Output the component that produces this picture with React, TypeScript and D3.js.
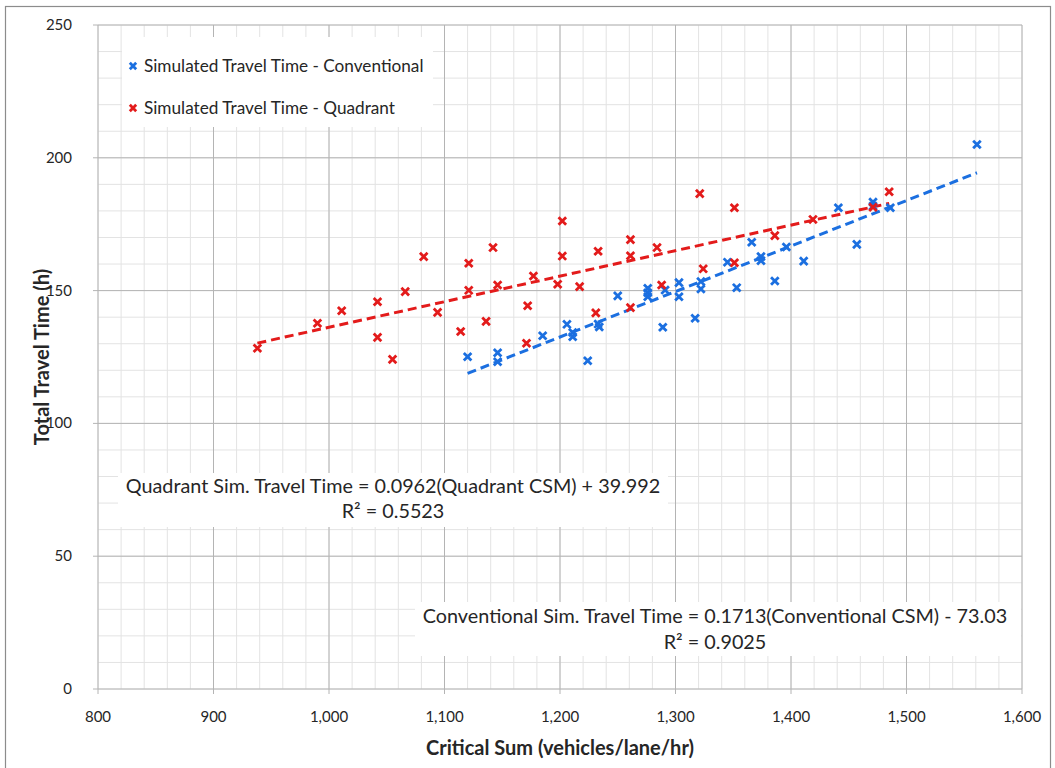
import React from "react";
import * as d3 from "d3";

// ---------- data ----------
const conventionalCSM = [
  1120, 1146, 1146, 1185, 1206, 1211, 1211, 1224, 1233, 1234, 1250, 1276, 1276, 1276,
  1289, 1291, 1303, 1303, 1317, 1322, 1322, 1345, 1353, 1366, 1374, 1374, 1386, 1396,
  1411, 1441, 1457, 1471, 1471, 1486, 1561,
];
const conventionalTime = [
  125.1, 126.6, 123.2, 133.0, 137.3, 134.2, 132.6, 123.6, 137.4, 136.3, 148.0, 150.9, 149.2, 147.7,
  136.2, 150.2, 153.0, 147.7, 139.6, 153.4, 150.6, 160.7, 151.1, 168.2, 162.8, 161.3, 153.6, 166.4,
  161.1, 181.2, 167.4, 183.3, 181.8, 181.2, 205.0,
];
const quadrantCSM = [
  938, 990, 1011, 1042, 1042, 1055, 1066, 1082, 1094, 1114, 1121, 1121, 1142, 1136, 1146,
  1172, 1171, 1177, 1202, 1202, 1198, 1217, 1233, 1231, 1261, 1261, 1261, 1284, 1288,
  1321, 1324, 1351, 1351, 1386, 1419, 1471, 1485,
];
const quadrantTime = [
  128.3, 137.7, 142.4, 145.8, 132.4, 124.1, 149.6, 162.8, 141.8, 134.6, 160.3, 150.1, 166.2, 138.4, 152.1,
  144.3, 130.2, 155.5, 176.2, 163.0, 152.4, 151.5, 164.8, 141.6, 169.2, 163.1, 143.6, 166.2, 152.1,
  186.5, 158.2, 181.2, 160.5, 170.7, 176.8, 181.4, 187.2,
];
const conventionalFit = { slope: 0.1713, intercept: -73.03 };
const quadrantFit = { slope: 0.0962, intercept: 39.992 };

const xTicks = [800, 900, 1000, 1100, 1200, 1300, 1400, 1500, 1600];
const yTicks = [0, 50, 100, 150, 200, 250];
const legendLabels = ["Simulated Travel Time - Conventional", "Simulated Travel Time - Quadrant"];
const quadrantEq = "Quadrant Sim. Travel Time = 0.0962(Quadrant CSM) + 39.992";
const quadrantR2 = "R² = 0.5523";
const conventionalEq = "Conventional Sim. Travel Time = 0.1713(Conventional CSM) - 73.03";
const conventionalR2 = "R² = 0.9025";
const xTitle = "Critical Sum (vehicles/lane/hr)";
const yTitle = "Total Travel Time (h)";

// ---------- styles ----------
const W = 1055;
const H = 768;
const plot = { left: 98, right: 1022, top: 25, bottom: 689 };
const BLUE = "#1b6fe0";
const RED = "#e31b1b";
const TEXT = "#262626";
const FONT = "Lato, 'Open Sans', sans-serif";

function Cross({ x, y, color, s = 3.8 }: { x: number; y: number; color: string; s?: number }) {
  return (
    <path
      d={`M${x - s},${y - s}L${x + s},${y + s}M${x - s},${y + s}L${x + s},${y - s}`}
      stroke={color}
      strokeWidth={2.8}
      fill="none"
    />
  );
}

export default function App() {
  const x = d3.scaleLinear().domain([800, 1600]).range([plot.left, plot.right]);
  const y = d3.scaleLinear().domain([0, 250]).range([plot.bottom, plot.top]);

  const xMinor = d3.range(800, 1600.1, 20);
  const yMinor = d3.range(0, 250.1, 10);

  const conv = conventionalCSM.map((c, i) => [c, conventionalTime[i]] as [number, number]);
  const quad = quadrantCSM.map((c, i) => [c, quadrantTime[i]] as [number, number]);

  const line = d3
    .line<[number, number]>()
    .x((d) => x(d[0]))
    .y((d) => y(d[1]));

  const fitPts = (xs: number[], f: { slope: number; intercept: number }) => {
    const [a, b] = d3.extent(xs) as [number, number];
    return [
      [a, f.slope * a + f.intercept],
      [b, f.slope * b + f.intercept],
    ] as [number, number][];
  };

  return (
    <svg
      width={W}
      height={H}
      style={{ position: "absolute", left: 0, top: 0, background: "#fff" }}
      fontFamily={FONT}
    >
      <rect x={0} y={0} width={W} height={H} fill="#fff" />
      <rect x={5.5} y={6.5} width={1045} height={775} fill="none" stroke="#8c8c8c" strokeWidth={1.2} />

      {/* minor grid */}
      {xMinor.map((v) => (
        <line key={"xm" + v} x1={x(v)} x2={x(v)} y1={plot.top} y2={plot.bottom} stroke="#e3e3e3" strokeWidth={1} />
      ))}
      {yMinor.map((v) => (
        <line key={"ym" + v} x1={plot.left} x2={plot.right} y1={y(v)} y2={y(v)} stroke="#e3e3e3" strokeWidth={1} />
      ))}
      {/* major grid */}
      {xTicks.map((v) => (
        <line key={"xM" + v} x1={x(v)} x2={x(v)} y1={plot.top} y2={plot.bottom + 5} stroke="#b4b4b4" strokeWidth={1} />
      ))}
      {yTicks.map((v) => (
        <line key={"yM" + v} x1={plot.left - 5} x2={plot.right} y1={y(v)} y2={y(v)} stroke="#b4b4b4" strokeWidth={1} />
      ))}

      {/* legend & label boxes */}
      <rect x={122} y={37} width={311} height={90} fill="#fff" />
      <rect x={118} y={473} width={550} height={54} fill="#fff" />
      <rect x={415} y={602} width={606} height={54} fill="#fff" />

      {/* trend lines */}
      <path d={line(fitPts(quadrantCSM, quadrantFit)) || ""} stroke={RED} strokeWidth={3} strokeDasharray="9 5" fill="none" />
      <path d={line(fitPts(conventionalCSM, conventionalFit)) || ""} stroke={BLUE} strokeWidth={3} strokeDasharray="9 5" fill="none" />

      {/* points */}
      {conv.map((d, i) => (
        <Cross key={"c" + i} x={x(d[0])} y={y(d[1])} color={BLUE} />
      ))}
      {quad.map((d, i) => (
        <Cross key={"q" + i} x={x(d[0])} y={y(d[1])} color={RED} />
      ))}

      {/* legend */}
      {legendLabels.map((t, i) => (
        <g key={t}>
          <Cross x={133} y={66 + i * 42} color={i === 0 ? BLUE : RED} s={3.2} />
          <text x={144} y={72 + i * 42} fontSize={17.2} fill={TEXT}>
            {t}
          </text>
        </g>
      ))}

      {/* annotations */}
      <text x={393} y={493} fontSize={19.8} textAnchor="middle" fill={TEXT}>
        {quadrantEq}
      </text>
      <text x={393} y={518} fontSize={19.8} textAnchor="middle" fill={TEXT}>
        {quadrantR2}
      </text>
      <text x={715} y={623} fontSize={19.8} textAnchor="middle" fill={TEXT}>
        {conventionalEq}
      </text>
      <text x={715} y={649} fontSize={19.8} textAnchor="middle" fill={TEXT}>
        {conventionalR2}
      </text>

      {/* tick labels */}
      {xTicks.map((v) => (
        <text key={"xl" + v} x={x(v)} y={722} fontSize={15} textAnchor="middle" fill={TEXT}>
          {d3.format(",")(v)}
        </text>
      ))}
      {yTicks.map((v) => (
        <text key={"yl" + v} x={72} y={y(v) + 5} fontSize={15} textAnchor="end" fill={TEXT}>
          {v}
        </text>
      ))}

      {/* axis titles */}
      <text x={560} y={755} fontSize={20} fontWeight="bold" textAnchor="middle" fill={TEXT}>
        {xTitle}
      </text>
      <text
        transform={`translate(49,${(plot.top + plot.bottom) / 2}) rotate(-90)`}
        fontSize={20}
        fontWeight="bold"
        textAnchor="middle"
        fill={TEXT}
      >
        {yTitle}
      </text>
    </svg>
  );
}
